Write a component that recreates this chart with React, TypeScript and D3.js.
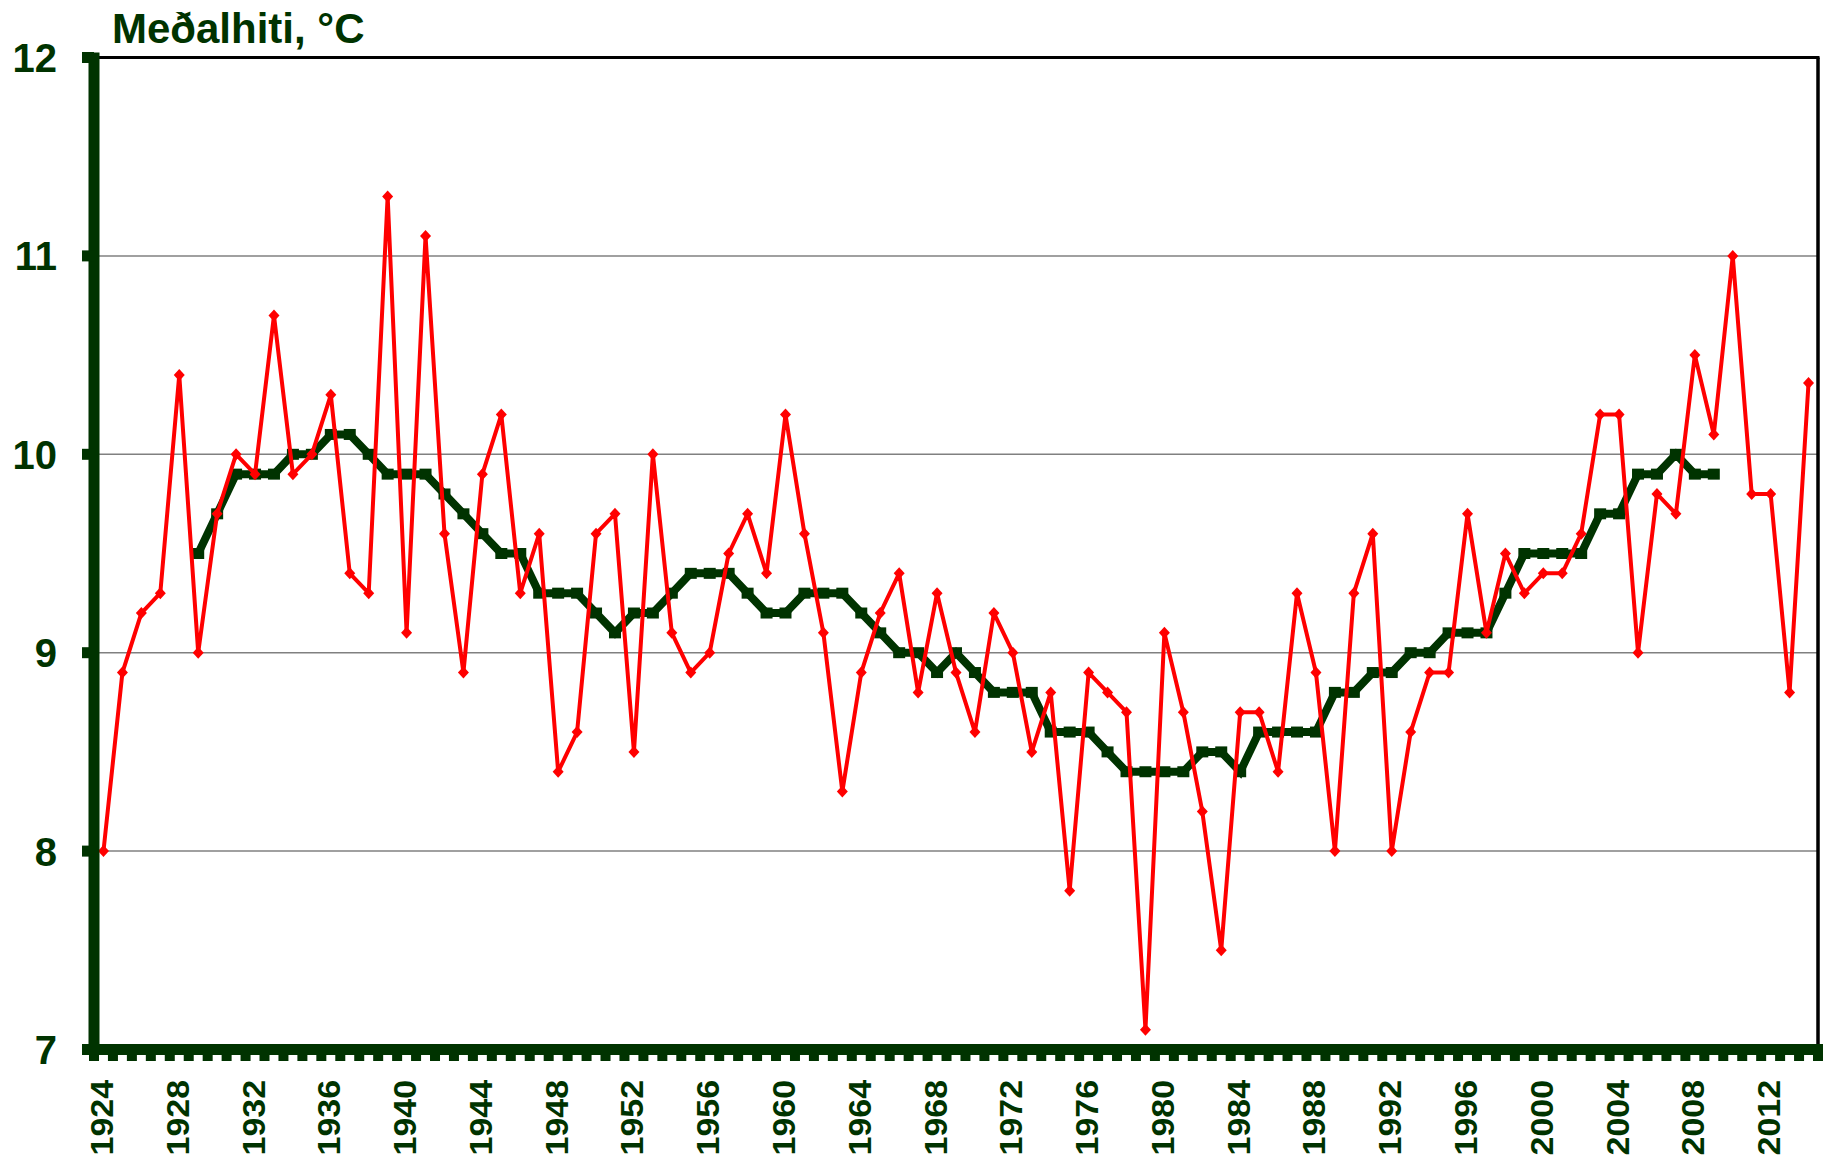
import React from "react";
import * as d3 from "d3";

const years = [
  1924, 1925, 1926, 1927, 1928, 1929, 1930, 1931, 1932, 1933,
  1934, 1935, 1936, 1937, 1938, 1939, 1940, 1941, 1942, 1943,
  1944, 1945, 1946, 1947, 1948, 1949, 1950, 1951, 1952, 1953,
  1954, 1955, 1956, 1957, 1958, 1959, 1960, 1961, 1962, 1963,
  1964, 1965, 1966, 1967, 1968, 1969, 1970, 1971, 1972, 1973,
  1974, 1975, 1976, 1977, 1978, 1979, 1980, 1981, 1982, 1983,
  1984, 1985, 1986, 1987, 1988, 1989, 1990, 1991, 1992, 1993,
  1994, 1995, 1996, 1997, 1998, 1999, 2000, 2001, 2002, 2003,
  2004, 2005, 2006, 2007, 2008, 2009, 2010, 2011, 2012, 2013, 2014,
];

const annualMean = [
  8.0, 8.9, 9.2, 9.3, 10.4, 9.0, 9.7, 10.0, 9.9, 10.7,
  9.9, 10.0, 10.3, 9.4, 9.3, 11.3, 9.1, 11.1, 9.6, 8.9,
  9.9, 10.2, 9.3, 9.6, 8.4, 8.6, 9.6, 9.7, 8.5, 10.0,
  9.1, 8.9, 9.0, 9.5, 9.7, 9.4, 10.2, 9.6, 9.1, 8.3,
  8.9, 9.2, 9.4, 8.8, 9.3, 8.9, 8.6, 9.2, 9.0, 8.5,
  8.8, 7.8, 8.9, 8.8, 8.7, 7.1, 9.1, 8.7, 8.2, 7.5,
  8.7, 8.7, 8.4, 9.3, 8.9, 8.0, 9.3, 9.6, 8.0, 8.6,
  8.9, 8.9, 9.7, 9.1, 9.5, 9.3, 9.4, 9.4, 9.6, 10.2,
  10.2, 9.0, 9.8, 9.7, 10.5, 10.1, 11.0, 9.8, 9.8, 8.8, 10.36,
];

const movingAvgYears = [
  1929, 1930, 1931, 1932, 1933, 1934, 1935, 1936, 1937, 1938,
  1939, 1940, 1941, 1942, 1943, 1944, 1945, 1946, 1947, 1948,
  1949, 1950, 1951, 1952, 1953, 1954, 1955, 1956, 1957, 1958,
  1959, 1960, 1961, 1962, 1963, 1964, 1965, 1966, 1967, 1968,
  1969, 1970, 1971, 1972, 1973, 1974, 1975, 1976, 1977, 1978,
  1979, 1980, 1981, 1982, 1983, 1984, 1985, 1986, 1987, 1988,
  1989, 1990, 1991, 1992, 1993, 1994, 1995, 1996, 1997, 1998,
  1999, 2000, 2001, 2002, 2003, 2004, 2005, 2006, 2007, 2008, 2009,
];

const movingAvg = [
  9.5, 9.7, 9.9, 9.9, 9.9, 10.0, 10.0, 10.1, 10.1, 10.0,
  9.9, 9.9, 9.9, 9.8, 9.7, 9.6, 9.5, 9.5, 9.3, 9.3,
  9.3, 9.2, 9.1, 9.2, 9.2, 9.3, 9.4, 9.4, 9.4, 9.3,
  9.2, 9.2, 9.3, 9.3, 9.3, 9.2, 9.1, 9.0, 9.0, 8.9,
  9.0, 8.9, 8.8, 8.8, 8.8, 8.6, 8.6, 8.6, 8.5, 8.4,
  8.4, 8.4, 8.4, 8.5, 8.5, 8.4, 8.6, 8.6, 8.6, 8.6,
  8.8, 8.8, 8.9, 8.9, 9.0, 9.0, 9.1, 9.1, 9.1, 9.3,
  9.5, 9.5, 9.5, 9.5, 9.7, 9.7, 9.9, 9.9, 10.0, 9.9, 9.9,
];

const yTicks = [7, 8, 9, 10, 11, 12];
const xLabelYears = [
  1924, 1928, 1932, 1936, 1940, 1944, 1948, 1952, 1956, 1960, 1964,
  1968, 1972, 1976, 1980, 1984, 1988, 1992, 1996, 2000, 2004, 2008, 2012,
];
const titleText = "Meðalhiti, °C";

const W = 1828;
const H = 1159;
const PLOT_L = 94;
const PLOT_R = 1818;
const PLOT_T = 57.5;
const PLOT_B = 1049.5;
const DARK = "#003300";
const FONT = "'Liberation Sans', Arial, Helvetica, sans-serif";

export default function App() {
  const x = d3
    .scaleBand<number>()
    .domain(years)
    .range([PLOT_L, PLOT_R])
    .paddingInner(0)
    .paddingOuter(0);
  const cx = (yr: number) => (x(yr) as number) + x.bandwidth() / 2;
  const y = d3.scaleLinear().domain([7, 12]).range([PLOT_B, PLOT_T]);

  const annualPts = years.map((yr, i) => [cx(yr), y(annualMean[i])] as [number, number]);
  const maPts = movingAvgYears.map((yr, i) => [cx(yr), y(movingAvg[i])] as [number, number]);
  const line = d3.line<[number, number]>().x((d) => d[0]).y((d) => d[1]);

  const boundaries = years.map((yr) => x(yr) as number).concat([PLOT_R]);

  return (
    <svg
      width={W}
      height={H}
      viewBox={`0 0 ${W} ${H}`}
      style={{ position: "absolute", left: 0, top: 0, background: "#fff" }}
      fontFamily={FONT}
    >
      <rect x={0} y={0} width={W} height={H} fill="#fff" />
      {/* gridlines */}
      {yTicks
        .filter((t) => t > 7 && t < 12)
        .map((t) => (
          <line
            key={"g" + t}
            x1={PLOT_L}
            x2={PLOT_R}
            y1={y(t)}
            y2={y(t)}
            stroke="#808080"
            strokeWidth={1.5}
          />
        ))}
      {/* top and right frame */}
      <line x1={PLOT_L} x2={PLOT_R + 1.5} y1={y(12)} y2={y(12)} stroke="#000" strokeWidth={3} />
      <line x1={PLOT_R} x2={PLOT_R} y1={y(12)} y2={PLOT_B} stroke="#000" strokeWidth={3.5} />

      {/* moving average (green) */}
      <path d={line(maPts) || ""} fill="none" stroke={DARK} strokeWidth={8} strokeLinejoin="miter" />
      {maPts.map((p, i) => (
        <rect key={"m" + i} x={p[0] - 6} y={p[1] - 5.5} width={12} height={11} fill={DARK} />
      ))}

      {/* annual (red) */}
      <path d={line(annualPts) || ""} fill="none" stroke="#ff0000" strokeWidth={4} strokeLinejoin="round" />
      {annualPts.map((p, i) => (
        <path
          key={"a" + i}
          d={`M${p[0]},${p[1] - 6}L${p[0] + 5.5},${p[1]}L${p[0]},${p[1] + 6}L${p[0] - 5.5},${p[1]}Z`}
          fill="#ff0000"
        />
      ))}

      {/* x axis ticks */}
      {boundaries.map((bx, i) => (
        <rect key={"xt" + i} x={bx - 5} y={PLOT_B} width={10} height={11.5} fill={DARK} />
      ))}
      {/* x axis line */}
      <rect x={82} y={PLOT_B - 5.5} width={PLOT_R + 5 - 82} height={11} fill={DARK} />
      {/* y axis line */}
      <rect x={PLOT_L - 5.5} y={PLOT_T - 5} width={11} height={PLOT_B - PLOT_T + 10} fill={DARK} />
      {/* y ticks */}
      {yTicks.map((t) => (
        <rect key={"yt" + t} x={82} y={y(t) - 5.5} width={PLOT_L - 82} height={11} fill={DARK} />
      ))}

      {/* y tick labels */}
      {yTicks.map((t) => (
        <text
          key={"yl" + t}
          x={57}
          y={y(t)}
          dy="0.36em"
          textAnchor="end"
          fontSize={40}
          fontWeight="bold"
          fill={DARK}
        >
          {t}
        </text>
      ))}

      {/* x tick labels */}
      {xLabelYears.map((yr) => (
        <text
          key={"xl" + yr}
          transform={`translate(${cx(yr) - 2},1080) rotate(-90) scale(1.06,1)`}
          dy="0.36em"
          textAnchor="end"
          fontSize={32}
          fontWeight="bold"
          fill={DARK}
        >
          {yr}
        </text>
      ))}

      {/* title */}
      <text x={112} y={43} fontSize={42} fontWeight="bold" fill={DARK}>
        {titleText}
      </text>
    </svg>
  );
}
